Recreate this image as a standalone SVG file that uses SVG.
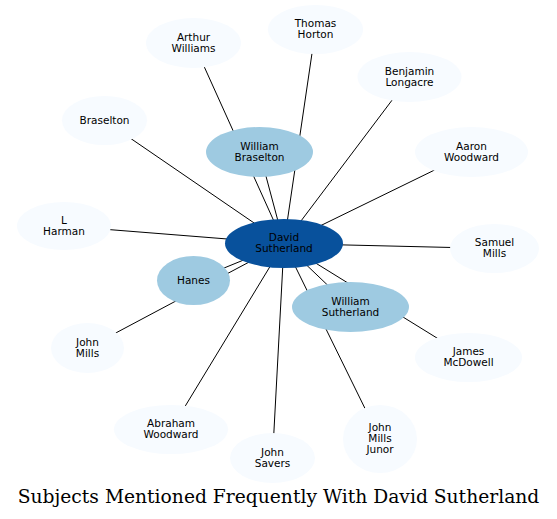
<svg xmlns="http://www.w3.org/2000/svg" width="557" height="519" viewBox="0 0 557 519">
<style>
.e{stroke:#000;stroke-width:1;fill:none}
.n{fill:#f7fbff}
.m{fill:#9ecae1}
.c{fill:#08519c}
text{font-family:"DejaVu Sans",sans-serif;font-size:10.5px;text-anchor:middle;fill:#000}
.t{font-family:"DejaVu Serif",serif;font-size:18.7px}
</style>
<rect width="557" height="519" fill="#fff"/>
<g id="edges">
<line class="e" x1="284" y1="243.5" x2="193.5" y2="43"/>
<line class="e" x1="284" y1="243.5" x2="315.5" y2="29.5"/>
<line class="e" x1="284" y1="243.5" x2="409.5" y2="77"/>
<line class="e" x1="284" y1="243.5" x2="471.5" y2="152"/>
<line class="e" x1="284" y1="243.5" x2="494.5" y2="248.5"/>
<line class="e" x1="284" y1="243.5" x2="104.5" y2="120.5"/>
<line class="e" x1="284" y1="243.5" x2="64" y2="226"/>
<line class="e" x1="284" y1="243.5" x2="87.5" y2="348"/>
<line class="e" x1="284" y1="243.5" x2="171" y2="429.5"/>
<line class="e" x1="284" y1="243.5" x2="272.5" y2="458"/>
<line class="e" x1="284" y1="243.5" x2="468.5" y2="357.5"/>
<line class="e" x1="284" y1="243.5" x2="380" y2="439"/>
<line class="e" x1="284" y1="243.5" x2="350.5" y2="307"/>
<line class="e" x1="284" y1="243.5" x2="193.5" y2="280.5"/>
<line class="e" x1="284" y1="243.5" x2="259.5" y2="152"/>
</g>
<g id="arthur_williams"><ellipse class="n" cx="193.5" cy="43" rx="47.5" ry="25"/><text x="193.5" y="40.5">Arthur</text><text x="193.5" y="51.5">Williams</text></g>
<g id="thomas_horton"><ellipse class="n" cx="315.5" cy="29.5" rx="47.5" ry="24.5"/><text x="315.5" y="27">Thomas</text><text x="315.5" y="38">Horton</text></g>
<g id="benjamin_longacre"><ellipse class="n" cx="409.5" cy="77" rx="52" ry="25"/><text x="409.5" y="74.5">Benjamin</text><text x="409.5" y="85.5">Longacre</text></g>
<g id="aaron_woodward"><ellipse class="n" cx="471.5" cy="152" rx="56.5" ry="25"/><text x="471.5" y="149.5">Aaron</text><text x="471.5" y="160.5">Woodward</text></g>
<g id="samuel_mills"><ellipse class="n" cx="494.5" cy="248.5" rx="44.5" ry="24.5"/><text x="494.5" y="246">Samuel</text><text x="494.5" y="257">Mills</text></g>
<g id="braselton"><ellipse class="n" cx="104.5" cy="120.5" rx="42.5" ry="24.5"/><text x="104.5" y="123.5">Braselton</text></g>
<g id="l_harman"><ellipse class="n" cx="64" cy="226" rx="47" ry="24"/><text x="64" y="223.5">L</text><text x="64" y="234.5">Harman</text></g>
<g id="john_mills"><ellipse class="n" cx="87.5" cy="348" rx="36.5" ry="25"/><text x="87.5" y="345.5">John</text><text x="87.5" y="356.5">Mills</text></g>
<g id="abraham_woodward"><ellipse class="n" cx="171" cy="429.5" rx="57" ry="24.5"/><text x="171" y="427">Abraham</text><text x="171" y="438">Woodward</text></g>
<g id="john_savers"><ellipse class="n" cx="272.5" cy="458" rx="42.5" ry="25"/><text x="272.5" y="455.5">John</text><text x="272.5" y="466.5">Savers</text></g>
<g id="james_mcdowell"><ellipse class="n" cx="468.5" cy="357.5" rx="53.5" ry="24.5"/><text x="468.5" y="355">James</text><text x="468.5" y="366">McDowell</text></g>
<g id="john_mills_junor"><ellipse class="n" cx="380" cy="439" rx="37" ry="34"/><text x="380" y="431">John</text><text x="380" y="442">Mills</text><text x="380" y="453">Junor</text></g>
<g id="william_sutherland"><ellipse class="m" cx="350.5" cy="307" rx="58.5" ry="25"/><text x="350.5" y="304.5">William</text><text x="350.5" y="315.5">Sutherland</text></g>
<g id="hanes"><ellipse class="m" cx="193.5" cy="280.5" rx="36.5" ry="24.5"/><text x="193.5" y="283.5">Hanes</text></g>
<g id="william_braselton"><ellipse class="m" cx="259.5" cy="152" rx="53.5" ry="25"/><text x="259.5" y="149.5">William</text><text x="259.5" y="160.5">Braselton</text></g>
<g id="david_sutherland"><ellipse class="c" cx="284" cy="243.5" rx="59" ry="24.5"/><text x="284" y="241">David</text><text x="284" y="252">Sutherland</text></g>
<text class="t" x="278.5" y="503">Subjects Mentioned Frequently With David Sutherland</text>
</svg>
